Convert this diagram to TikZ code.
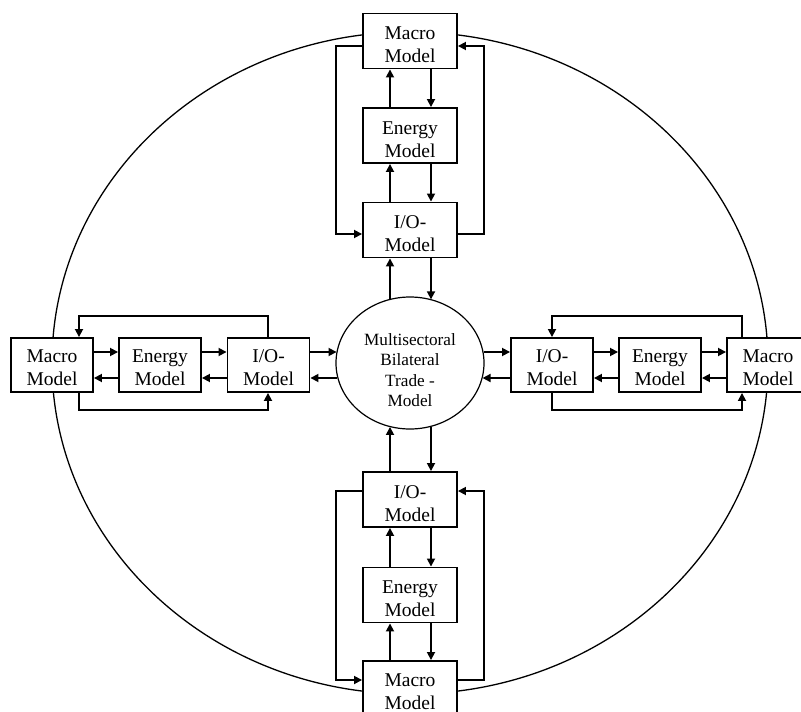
\documentclass[tikz,border=0pt]{standalone}
\usepackage{fontspec}
\setmainfont{Liberation Serif}
\usetikzlibrary{arrows.meta,shapes.geometric}
\newcommand\twoline[2]{\rule{0pt}{21pt}#1\\#2}
\newcommand\rowline[2]{\rule{0pt}{19pt}#1\\#2}
\begin{document}
\begin{tikzpicture}[x=1pt,y=-1pt,
  vbox/.style={draw,line width=1.9pt,fill=white,minimum width=94pt,minimum height=55pt,inner sep=0pt,align=center,font=\fontsize{19.5}{23}\selectfont},
  hbox/.style={vbox,minimum width=82pt,minimum height=54pt},
  conn/.style={line width=1.7pt,-{Triangle[length=8pt,width=8pt]}}]
\path[use as bounding box,fill=white] (0,0) rectangle (801,712);
\clip (0,0) rectangle (801,712);
% outer ellipse
\node[draw,ellipse,line width=1.3pt,minimum width=716pt,minimum height=662pt,inner sep=0pt] (outer) at (410,363) {};
% centre
\node[draw,ellipse,line width=1.2pt,fill=white,minimum width=148pt,minimum height=132pt,inner sep=0pt,align=center,font=\fontsize{17.2}{20.3}\selectfont] (cen) at (410,363) {\rule{0pt}{26.4pt}Multisectoral\\Bilateral\\Trade -\\Model};
% boxes
\node[vbox] (tmac) at (410,41) {\twoline{Macro}{Model}};
\node[vbox] (tene) at (410,135.5) {\twoline{Energy}{Model}};
\node[vbox] (tio) at (410,230) {\twoline{I/O-}{Model}};
\node[vbox] (bio) at (410,499.5) {\twoline{I/O-}{Model}};
\node[vbox] (bene) at (410,595) {\twoline{Energy}{Model}};
\node[vbox] (bmac) at (410,688.5) {\rowline{Macro}{Model}};
\node[hbox] (lmac) at (52,365) {\rowline{Macro}{Model}};
\node[hbox] (lene) at (160,365) {\rowline{Energy}{Model}};
\node[hbox] (lio) at (268.5,365) {\rowline{I/O-}{Model}};
\node[hbox] (rio) at (552,365) {\rowline{I/O-}{Model}};
\node[hbox] (rene) at (660,365) {\rowline{Energy}{Model}};
\node[hbox] (rmac) at (768,365) {\rowline{Macro}{Model}};
% helper coordinates
\coordinate (xa) at (390,0);
\coordinate (xb) at (431,0);
\coordinate (ya) at (0,352);
\coordinate (yb) at (0,378);
% top column
\draw[conn] (tene.north -| xa) -- (tmac.south -| xa);
\draw[conn] (tmac.south -| xb) -- (tene.north -| xb);
\draw[conn] (tio.north -| xa) -- (tene.south -| xa);
\draw[conn] (tene.south -| xb) -- (tio.north -| xb);
\draw[conn] (xa |- cen.107.5) -- (xa |- tio.south);
\draw[conn] (xb |- tio.south) -- (xb |- cen.71.6);
% bottom column
\draw[conn] (xa |- bio.north) -- (xa |- cen.252.5);
\draw[conn] (xb |- cen.288.4) -- (xb |- bio.north);
\draw[conn] (bene.north -| xa) -- (bio.south -| xa);
\draw[conn] (bio.south -| xb) -- (bene.north -| xb);
\draw[conn] (bmac.north -| xa) -- (bene.south -| xa);
\draw[conn] (bene.south -| xb) -- (bmac.north -| xb);
% left row
\draw[conn] (lmac.east |- ya) -- (lene.west |- ya);
\draw[conn] (lene.east |- ya) -- (lio.west |- ya);
\draw[conn] (lio.east |- ya) -- (cen.171.4 |- ya);
\draw[conn] (cen.192.6 |- yb) -- (lio.east |- yb);
\draw[conn] (lio.west |- yb) -- (lene.east |- yb);
\draw[conn] (lene.west |- yb) -- (lmac.east |- yb);
% right row
\draw[conn] (cen.8.6 |- ya) -- (rio.west |- ya);
\draw[conn] (rio.east |- ya) -- (rene.west |- ya);
\draw[conn] (rene.east |- ya) -- (rmac.west |- ya);
\draw[conn] (rmac.west |- yb) -- (rene.east |- yb);
\draw[conn] (rene.west |- yb) -- (rio.east |- yb);
\draw[conn] (rio.west |- yb) -- (cen.-12.6 |- yb);
% loops top
\coordinate (tlA) at (336,46); \coordinate (tlB) at (336,234);
\coordinate (trA) at (484,46); \coordinate (trB) at (484,234);
\draw[conn] (tmac.west |- tlA) -- (tlA) -- (tlB) -- (tio.west |- tlB);
\draw[conn] (tio.east |- trB) -- (trB) -- (trA) -- (tmac.east |- trA);
% loops bottom
\coordinate (blA) at (336,491); \coordinate (blB) at (336,680);
\coordinate (brA) at (484,491); \coordinate (brB) at (484,680);
\draw[conn] (bio.west |- blA) -- (blA) -- (blB) -- (bmac.west |- blB);
\draw[conn] (bmac.east |- brB) -- (brB) -- (brA) -- (bio.east |- brA);
% loops left
\coordinate (luA) at (268,316); \coordinate (luB) at (79,316);
\coordinate (ldA) at (268,410); \coordinate (ldB) at (79,410);
\draw[conn] (lio.north -| luA) -- (luA) -- (luB) -- (lmac.north -| luB);
\draw[conn] (lmac.south -| ldB) -- (ldB) -- (ldA) -- (lio.south -| ldA);
% loops right
\coordinate (ruA) at (742,316); \coordinate (ruB) at (552,316);
\coordinate (rdA) at (552,410); \coordinate (rdB) at (742,410);
\draw[conn] (rmac.north -| ruA) -- (ruA) -- (ruB) -- (rio.north -| ruB);
\draw[conn] (rio.south -| rdA) -- (rdA) -- (rdB) -- (rmac.south -| rdB);
\end{tikzpicture}
\end{document}
